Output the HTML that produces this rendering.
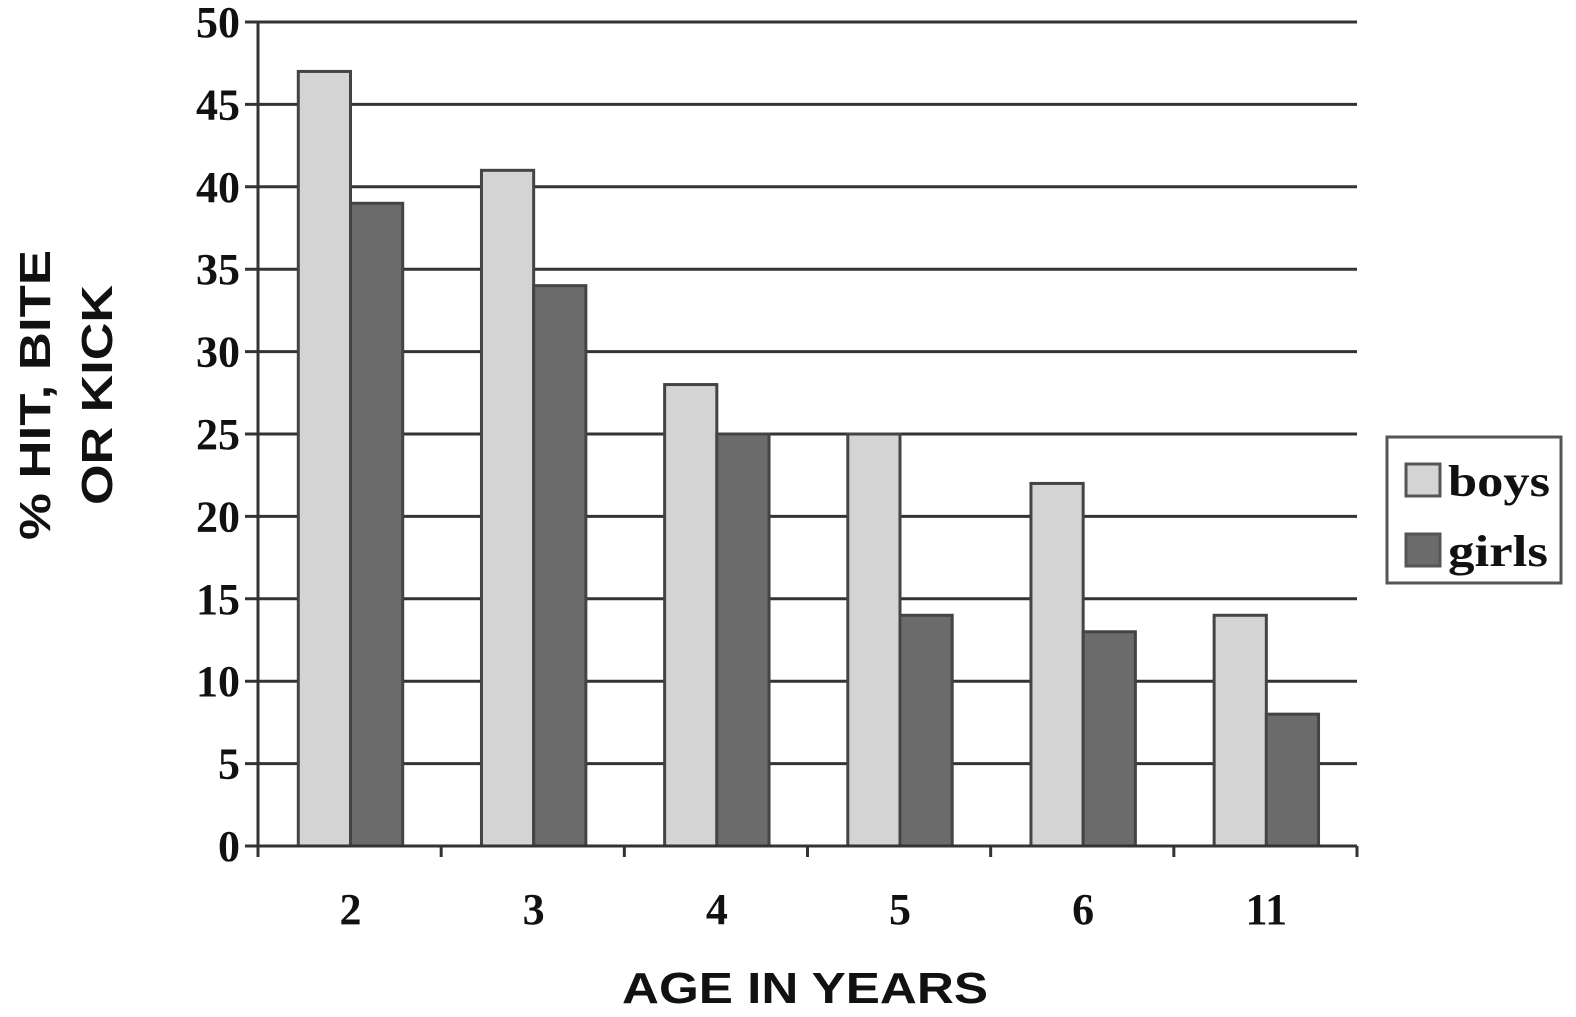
<!DOCTYPE html>
<html><head><meta charset="utf-8"><style>
html,body{margin:0;padding:0;background:#fff;}
svg{display:block;}
.tick{font-family:"Liberation Serif",serif;font-weight:bold;font-size:44px;fill:#111;}
.ttl{font-family:"Liberation Sans",sans-serif;font-weight:bold;font-size:44px;fill:#111;}
</style></head><body>
<svg id="chart" width="1576" height="1017" viewBox="0 0 1576 1017">
<g id="grid"></g><g id="bars"></g><g id="axes"></g>
<text class="ttl" x="805" y="1003" text-anchor="middle" textLength="366" lengthAdjust="spacingAndGlyphs">AGE IN YEARS</text>
<g transform="translate(0,395) rotate(-90)">
<text class="ttl" x="0" y="50" text-anchor="middle" textLength="290" lengthAdjust="spacingAndGlyphs">% HIT, BITE</text>
<text class="ttl" x="0" y="112" text-anchor="middle" textLength="220" lengthAdjust="spacingAndGlyphs">OR KICK</text>
</g>
<g>
<rect x="1387" y="437" width="174" height="146" fill="#fff" stroke="#555" stroke-width="3"/>
<rect x="1406" y="464" width="34" height="32" fill="#d4d4d4" stroke="#555" stroke-width="3"/>
<text class="tick" x="1448" y="496" textLength="102" lengthAdjust="spacingAndGlyphs">boys</text>
<rect x="1406" y="534" width="34" height="32" fill="#6b6b6b" stroke="#555" stroke-width="3"/>
<text class="tick" x="1448" y="566" textLength="100" lengthAdjust="spacingAndGlyphs">girls</text>
</g>
</svg>
<script>
const categories = ["2","3","4","5","6","11"];
const boys = [47,41,28,25,22,14];
const girls = [39,34,25,14,13,8];
const yTicks = [0,5,10,15,20,25,30,35,40,45,50];
const NS="http://www.w3.org/2000/svg";
const X0=258,X1=1357,Y0=846,Y1=22,YMAX=50;
const y=v=>Y0-(Y0-Y1)*v/YMAX;
const gw=(X1-X0)/categories.length;
const mk=(t,a,p)=>{const e=document.createElementNS(NS,t);for(const k in a)e.setAttribute(k,a[k]);p.appendChild(e);return e;};
const grid=document.getElementById('grid'),bars=document.getElementById('bars'),axes=document.getElementById('axes');
yTicks.forEach(v=>{
  const l=mk('line',{x1:245,x2:X1,y1:y(v),y2:y(v),stroke:'#333','stroke-width':3},grid);
  
  
  const t=mk('text',{x:240,y:y(v)+15,'text-anchor':'end',class:'tick'},axes);
  t.textContent=v;
  
  
});
const bw=gw*0.285, off=gw*0.22;
categories.forEach((c,i)=>{
  const gx=X0+i*gw;
  const b=mk('rect',{x:gx+off,y:y(boys[i]),width:bw,height:Y0-y(boys[i]),fill:'#d4d4d4',stroke:'#444','stroke-width':3},bars);
  
  
  const g=mk('rect',{x:gx+off+bw,y:y(girls[i]),width:bw,height:Y0-y(girls[i]),fill:'#6b6b6b',stroke:'#444','stroke-width':3},bars);
  
  
  const t=mk('text',{x:gx+off+bw,y:924,'text-anchor':'middle',class:'tick'},axes);
  t.textContent=c;
  
  
});
for(let i=0;i<=categories.length;i++){
  const tk=mk('line',{x1:X0+i*gw,x2:X0+i*gw,y1:Y0,y2:857,stroke:'#333','stroke-width':3},axes);
  
  
}
const ya=mk('line',{x1:X0,x2:X0,y1:Y1,y2:857,stroke:'#333','stroke-width':3},axes);


const xa=mk('line',{x1:X0,x2:X1,y1:Y0,y2:Y0,stroke:'#333','stroke-width':3},axes);


</script>
</body></html>
